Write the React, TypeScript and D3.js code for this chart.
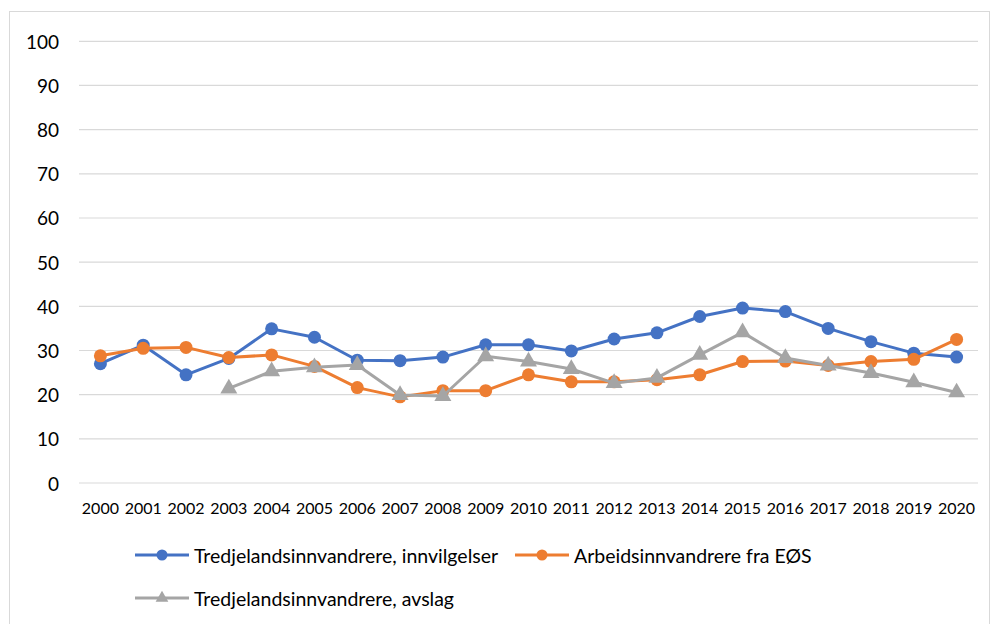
import React from "react";
import * as d3 from "d3";

const years = ["2000","2001","2002","2003","2004","2005","2006","2007","2008","2009","2010","2011","2012","2013","2014","2015","2016","2017","2018","2019","2020"];
const innvilgelser = [27.0, 31.2, 24.5, 28.2, 34.9, 33.0, 27.8, 27.7, 28.5, 31.3, 31.3, 29.9, 32.6, 34.0, 37.7, 39.6, 38.8, 35.0, 32.0, 29.4, 28.5];
const eos = [28.8, 30.5, 30.7, 28.4, 29.0, 26.4, 21.6, 19.5, 20.9, 20.9, 24.5, 22.9, 22.9, 23.4, 24.5, 27.5, 27.6, 26.6, 27.5, 28.0, 32.5];
const avslag: (number | null)[] = [null, null, null, 21.4, 25.3, 26.2, 26.7, 19.9, 19.7, 28.7, 27.5, 25.8, 22.6, 23.8, 29.0, 34.1, 28.3, 26.6, 24.9, 22.8, 20.5];
const yTicks = [0, 10, 20, 30, 40, 50, 60, 70, 80, 90, 100];

const seriesNames = ["Tredjelandsinnvandrere, innvilgelser", "Arbeidsinnvandrere fra EØS", "Tredjelandsinnvandrere, avslag"];
const colors = ["#4472C4", "#ED7D31", "#A5A5A5"];

export default function App() {
  const W = 992, H = 624;
  const x = d3.scaleBand<string>().domain(years).range([79, 978]);
  const y = d3.scaleLinear().domain([0, 100]).range([483, 41.3]);
  const cx = (yr: string) => (x(yr) as number) + x.bandwidth() / 2;
  const font = "Lato, 'Open Sans', sans-serif";

  const line = d3.line<number | null>()
    .defined((d) => d !== null)
    .x((_, i) => cx(years[i]))
    .y((d) => y(d as number));

  const tri = d3.symbol().type(d3.symbolTriangle).size(125)();

  const data: (number | null)[][] = [innvilgelser, eos, avslag];

  return (
    <svg width={W} height={H} style={{ position: "absolute", left: 0, top: 0, background: "#fff" }}>
      <rect x={0} y={0} width={W} height={H} fill="#fff" />
      <rect x={9.5} y={11.5} width={980} height={640} fill="none" stroke="#D9D9D9" strokeWidth={1} />
      {yTicks.map((t) => (
        <g key={t}>
          <line x1={79} x2={978} y1={y(t)} y2={y(t)} stroke="#D9D9D9" strokeWidth={1.2} />
          <text x={59} y={y(t)} textAnchor="end" dominantBaseline="central" fontFamily={font} fontSize={19} fill="#000">{t}</text>
        </g>
      ))}
      {years.map((yr) => (
        <text key={yr} x={cx(yr)} y={507} textAnchor="middle" dominantBaseline="central" fontFamily={font} fontSize={16} fill="#000">{yr}</text>
      ))}
      {data.map((s, si) => (
        <g key={si}>
          <path d={line(s) as string} fill="none" stroke={colors[si]} strokeWidth={3} strokeLinejoin="round" strokeLinecap="round" />
          {s.map((v, i) => v === null ? null : si === 2 ? (
            <path key={i} d={tri as string} transform={`translate(${cx(years[i])},${y(v)})`} fill={colors[si]} />
          ) : (
            <circle key={i} cx={cx(years[i])} cy={y(v)} r={6.5} fill={colors[si]} />
          ))}
        </g>
      ))}
      {[
        { lx: 135, ty: 555, si: 0 },
        { lx: 515, ty: 555, si: 1 },
        { lx: 135, ty: 598, si: 2 },
      ].map(({ lx, ty, si }) => (
        <g key={si}>
          <line x1={lx} x2={lx + 54} y1={ty} y2={ty} stroke={colors[si]} strokeWidth={3} />
          {si === 2 ? (
            <path d={d3.symbol().type(d3.symbolTriangle).size(70)() as string} transform={`translate(${lx + 27},${ty})`} fill={colors[si]} />
          ) : (
            <circle cx={lx + 27} cy={ty} r={5.5} fill={colors[si]} />
          )}
          <text x={lx + 59} y={ty} dominantBaseline="central" fontFamily={font} fontSize={19.5} fill="#000">{seriesNames[si]}</text>
        </g>
      ))}
    </svg>
  );
}
